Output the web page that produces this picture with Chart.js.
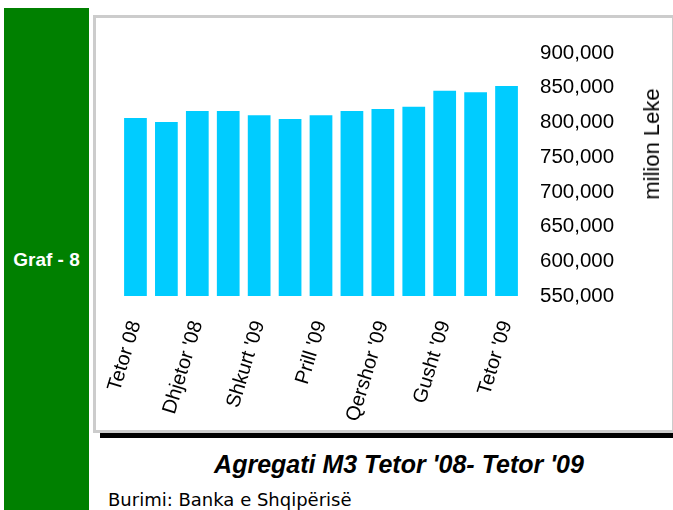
<!DOCTYPE html>
<html><head><meta charset="utf-8">
<script src="https://cdn.jsdelivr.net/npm/chart.js@4"></script>
<style>
html,body{margin:0;padding:0;background:#fff;}
body{width:673px;height:510px;position:relative;overflow:hidden;font-family:"Liberation Sans",Arial,sans-serif;}
#side{position:absolute;left:4px;top:8px;width:85px;height:502px;background:#008000;}
#graf{position:absolute;left:4px;width:85px;top:250px;text-align:center;color:#fff;font-weight:bold;font-size:19px;line-height:19px;white-space:nowrap;}
#box{position:absolute;left:93px;top:15px;width:576px;height:412px;border-style:solid;border-color:#cccccc;border-width:3px 1px 3px 3px;background:#fff;}
#box canvas{position:absolute;left:0;top:0;}
#rule{position:absolute;left:100px;top:433px;width:573px;height:5px;background:#000;}
#ytitle{position:absolute;left:651.5px;top:144px;transform:translate(-50%,-50%) rotate(-90deg);font-size:22px;white-space:nowrap;color:#000;}
#title{position:absolute;left:199px;width:400px;top:452px;text-align:center;font-weight:bold;font-style:italic;font-size:25px;line-height:25px;white-space:nowrap;color:#000;}
#source{position:absolute;left:108px;top:490px;font-family:"DejaVu Sans",sans-serif;font-size:18px;line-height:20px;white-space:nowrap;color:#000;}
</style></head>
<body>
<div id="side"></div>
<div id="graf">Graf - 8</div>
<div id="box"><canvas id="c" width="576" height="412"></canvas></div>
<div id="rule"></div>
<div id="ytitle">milion Leke</div>
<div id="title">Agregati M3 Tetor '08- Tetor '09</div>
<div id="source">Burimi: Banka e Shqipërisë</div>
<script>
const categories = ["Tetor 08","Nëntor '08","Dhjetor '08","Janar '09","Shkurt '09","Mars '09","Prill '09","Maj '09","Qershor '09","Korrik '09","Gusht '09","Shtator '09","Tetor '09"];
const tickLabels = ["Tetor 08","","Dhjetor '08","","Shkurt '09","","Prill '09","","Qershor '09","","Gusht '09","","Tetor '09"];
const m3Values = [806500, 800500, 816500, 816500, 810500, 805000, 810500, 816500, 819500, 822500, 845500, 843500, 852500];
const yMin = 550000, yMax = 900000, yStep = 50000;

const FONT = '"Liberation Sans", Arial, sans-serif';
new Chart(document.getElementById('c'), {
  type: 'bar',
  data: {
    labels: categories,
    datasets: [{
      data: m3Values,
      backgroundColor: '#00CCFF',
      borderWidth: 0,
      categoryPercentage: 1,
      barPercentage: 0.735
    }]
  },
  options: {
    responsive: false,
    animation: false,
    layout: { padding: { left: 24, top: 35, right: 0, bottom: 0 } },
    plugins: { legend: { display: false }, tooltip: { enabled: false } },
    scales: {
      x: {
        grid: { display: false, drawTicks: false },
        border: { display: false },
        ticks: {
          autoSkip: false, minRotation: 73, maxRotation: 73, padding: 22,
          color: '#000', font: { family: FONT, size: 20 },
          callback: (v, i) => tickLabels[i]
        },
        afterFit: s => { s.height = 134; s.paddingLeft = 0; s.paddingRight = 0; }
      },
      y: {
        position: 'right',
        min: yMin, max: yMax,
        grid: { display: false, drawTicks: false },
        border: { display: false },
        ticks: {
          stepSize: yStep, padding: 18,
          color: '#000', font: { family: FONT, size: 20.5 },
          callback: v => v.toLocaleString('en-US')
        },
        afterFit: s => { s.width = 150; }
      }
    }
  }
});
</script>
</body></html>
